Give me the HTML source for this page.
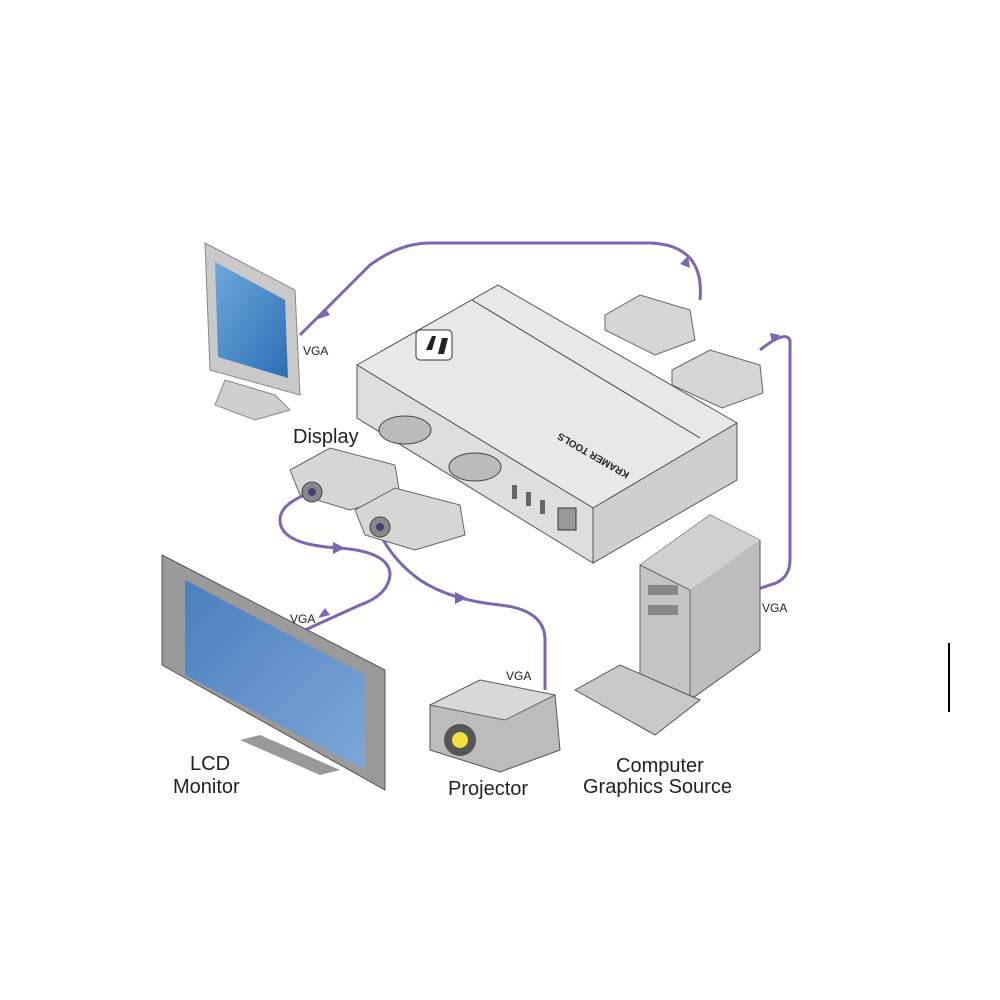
<!DOCTYPE html>
<html><head><style>
body{margin:0;background:#fff;}
svg{display:block;}
text{font-family:"Liberation Sans",sans-serif;}
</style></head><body>
<svg width="1000" height="1000" viewBox="0 0 1000 1000">
<rect width="1000" height="1000" fill="#fff"/>
<defs>
<linearGradient id="scr" x1="0" y1="0" x2="1" y2="1"><stop offset="0" stop-color="#6fa8dc"/><stop offset="1" stop-color="#2c6fb5"/></linearGradient>
<linearGradient id="lcd" x1="0" y1="0" x2="1" y2="1"><stop offset="0" stop-color="#4a7fc0"/><stop offset="1" stop-color="#7fa6d6"/></linearGradient>
</defs>
<!-- cables -->
<g fill="none" stroke="#8064b4" stroke-width="3">
<path d="M700,300 Q705,245 650,243 L430,243 Q400,243 370,265 L300,335"/>
<path d="M760,350 Q785,330 790,340 L790,560 Q790,580 770,585 L755,590"/>
<path d="M305,495 Q280,505 280,520 Q280,545 340,548 Q390,552 390,575 Q388,595 360,605 L305,630"/>
<path d="M378,530 Q392,560 420,580 Q450,600 500,605 Q545,610 545,640 L545,690"/>
</g>
<g fill="#8064b4">
<path d="M330,315 l-12,4 l7,-11z"/>
<path d="M690,268 l-10,-4 l8,-8z"/>
<path d="M780,335 l-8,8 l-2,-10z"/>
<path d="M345,548 l-12,-6 l0,12z"/>
<path d="M467,598 l-12,-6 l0,12z"/>
<path d="M330,615 l-12,3 l7,-10z"/>
</g>
<!-- top monitor -->
<polygon points="205,243 295,290 300,395 210,370" fill="#c9c9c9" stroke="#888"/>
<polygon points="215,262 285,300 288,378 218,357" fill="url(#scr)"/>
<polygon points="225,380 275,395 290,410 255,420 215,405" fill="#cfcfcf" stroke="#888"/>
<!-- device -->
<polygon points="357,365 498,285 737,423 593,508" fill="#e8e8e8" stroke="#555"/>
<polygon points="357,365 593,508 593,563 357,418" fill="#dedede" stroke="#555"/>
<polygon points="593,508 737,423 737,480 593,563" fill="#cfcfcf" stroke="#555"/>
<line x1="472" y1="300" x2="700" y2="438" stroke="#444"/>
<rect x="416" y="330" width="36" height="30" rx="4" fill="#fff" stroke="#333"/>
<path d="M426,350 l6,-14 l4,0 l-4,14z M438,354 l4,-16 l6,0 l-4,16z" fill="#222"/>
<text x="0" y="0" font-size="10" font-weight="bold" fill="#222" transform="translate(630,473) rotate(210)">KRAMER TOOLS</text>
<ellipse cx="405" cy="430" rx="26" ry="14" fill="#bbb" stroke="#444"/>
<ellipse cx="475" cy="467" rx="26" ry="14" fill="#bbb" stroke="#444"/>
<rect x="558" y="508" width="18" height="22" fill="#999" stroke="#333"/>
<rect x="512" y="485" width="5" height="14" fill="#666"/><rect x="526" y="492" width="5" height="14" fill="#666"/><rect x="540" y="500" width="5" height="14" fill="#666"/>
<!-- connectors -->
<g fill="#d6d6d6" stroke="#666">
<polygon points="605,315 640,295 690,310 695,340 655,355 605,330"/>
<polygon points="672,370 710,350 760,365 763,393 722,408 672,385"/>
<polygon points="290,470 330,448 395,465 400,495 350,510 300,495"/>
<polygon points="355,510 395,488 460,505 465,535 415,550 365,535"/>
</g>
<circle cx="312" cy="492" r="10" fill="#888" stroke="#444"/><circle cx="312" cy="492" r="4" fill="#4a3a7a"/>
<circle cx="380" cy="527" r="10" fill="#888" stroke="#444"/><circle cx="380" cy="527" r="4" fill="#4a3a7a"/>
<!-- LCD -->
<polygon points="162,555 385,670 385,790 162,665" fill="#9a9a9a" stroke="#555"/>
<polygon points="185,580 365,675 365,770 185,675" fill="url(#lcd)"/>
<polygon points="240,740 320,775 340,770 260,735" fill="#999"/>
<!-- projector -->
<polygon points="430,705 480,680 555,695 560,750 500,772 430,750" fill="#bcbcbc" stroke="#555"/>
<polygon points="430,705 480,680 555,695 505,720" fill="#d8d8d8" stroke="#666"/>
<circle cx="460" cy="740" r="16" fill="#555"/><circle cx="460" cy="740" r="8" fill="#f0e040"/>
<!-- tower -->
<polygon points="640,565 710,515 760,540 760,650 690,700 640,675" fill="#bdbdbd" stroke="#555"/>
<polygon points="640,565 710,515 760,540 690,590" fill="#d0d0d0"/>
<polygon points="640,565 690,590 690,700 640,675" fill="#c4c4c4" stroke="#666"/>
<rect x="648" y="585" width="30" height="10" fill="#888"/><rect x="648" y="605" width="30" height="10" fill="#888"/>
<!-- keyboard -->
<polygon points="575,690 620,665 700,700 655,735" fill="#c8c8c8" stroke="#555"/>
<!-- labels -->
<g font-size="12" fill="#222">
<text x="303" y="355">VGA</text>
<text x="290" y="623">VGA</text>
<text x="506" y="680">VGA</text>
<text x="762" y="612">VGA</text>
</g>
<g font-size="20" fill="#222">
<text x="293" y="443">Display</text>
<text x="190" y="770">LCD</text>
<text x="173" y="793">Monitor</text>
<text x="448" y="795">Projector</text>
<text x="616" y="772">Computer</text>
<text x="583" y="793">Graphics Source</text>
</g>
<rect x="948" y="643" width="2" height="69" fill="#000"/>
</svg>
</body></html>
